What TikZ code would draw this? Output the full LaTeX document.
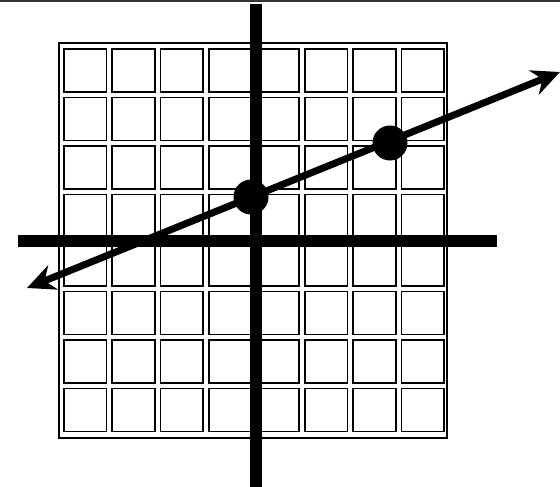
\documentclass[tikz,border=0pt]{standalone}
\usetikzlibrary{arrows.meta}
\tikzset{
  cell/.style={line width=1.8pt},
  axis/.style={line width=12pt},
  dot/.style={circle, fill, minimum size=35pt, inner sep=0pt},
  graphline/.style={line width=7pt, {Stealth[length=28pt,width=26pt]}-{Stealth[length=28pt,width=26pt]}}
}
\begin{document}
\begin{tikzpicture}[x=1pt,y=-1pt]
\useasboundingbox (0,0) rectangle (560,487);
\draw[line width=2pt, black!80] (0,1) -- (560,1);
\draw[cell] (59,43) rectangle (447,438);
\foreach \i in {0,...,7}
  \foreach \j in {0,...,7}
    \draw[cell] ({64+48.2*\i},{49+48.5*\j}) rectangle +(42.5,43);
\coordinate (ytop) at (256,4);
\coordinate (ybot) at (256,487);
\coordinate (xleft) at (18,241);
\coordinate (xright) at (497,241);
\draw[axis](ytop) -- (ybot);
\draw[axis](xleft) -- (xright);
\coordinate (lend) at (27,288);
\coordinate (rend) at (560,72);
\draw[graphline](lend) -- (rend);
\node[dot] (pt0) at (251,197){};
\node[dot] (pt1) at (390,143){};
\end{tikzpicture}
\end{document}
